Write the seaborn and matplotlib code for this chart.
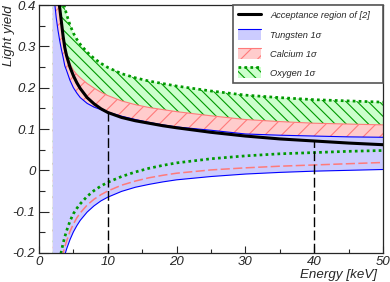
import numpy as np
import matplotlib
matplotlib.use("Agg")
import matplotlib.pyplot as plt
import matplotlib.ticker as mtick
from matplotlib.lines import Line2D
from matplotlib.patches import Patch, Rectangle
from matplotlib.legend_handler import HandlerBase
import seaborn as sns

# Values
energy = [2, 2.25, 2.5, 2.75, 3, 3.25, 3.5, 3.75, 4, 4.5, 5, 5.5, 6, 7, 8, 9, 10,
          12, 14, 16, 18, 20, 25, 30, 35, 40, 45, 50]

tungsten_lo = [-0.401, -0.354, -0.317, -0.286, -0.261, -0.239, -0.221, -0.205, -0.191,
               -0.168, -0.149, -0.134, -0.121, -0.101, -0.086, -0.074, -0.065,
               -0.051, -0.041, -0.034, -0.028, -0.023, -0.015, -0.009, -0.005, -0.002, 0.000, 0.002]
tungsten_hi = [0.46, 0.41, 0.37, 0.34, 0.315, 0.293, 0.274, 0.253, 0.242, 0.218, 0.200,
               0.187, 0.176, 0.162, 0.153, 0.147, 0.141, 0.131, 0.123, 0.116, 0.110,
               0.105, 0.097, 0.088, 0.085, 0.083, 0.081, 0.080]

calcium_lo = [-0.379, -0.333, -0.296, -0.266, -0.241, -0.219, -0.201, -0.185, -0.172,
              -0.148, -0.130, -0.115, -0.103, -0.084, -0.070, -0.059, -0.050,
              -0.036, -0.026, -0.018, -0.012, -0.007, 0.001, 0.006, 0.010, 0.013, 0.016, 0.019]
calcium_hi = [0.58, 0.52, 0.47, 0.425, 0.39, 0.357, 0.328, 0.303, 0.283, 0.258, 0.242,
              0.232, 0.224, 0.210, 0.199, 0.189, 0.181, 0.168, 0.159, 0.152, 0.147,
              0.142, 0.132, 0.123, 0.118, 0.114, 0.112, 0.110]

oxygen_lo = [-0.359, -0.312, -0.274, -0.243, -0.218, -0.196, -0.177, -0.161, -0.147,
             -0.123, -0.105, -0.092, -0.081, -0.063, -0.049, -0.038, -0.029,
             -0.015, -0.004, 0.005, 0.012, 0.018, 0.028, 0.035, 0.040, 0.043, 0.046, 0.048]
oxygen_hi = [0.62, 0.56, 0.52, 0.48, 0.455, 0.43, 0.41, 0.393, 0.378, 0.352, 0.332,
             0.317, 0.305, 0.286, 0.271, 0.259, 0.249, 0.234, 0.224, 0.216, 0.210,
             0.204, 0.192, 0.182, 0.176, 0.171, 0.168, 0.165]

acceptance = [0.60, 0.53, 0.48, 0.43, 0.395, 0.36, 0.325, 0.297, 0.278, 0.250, 0.229,
              0.212, 0.198, 0.176, 0.161, 0.149, 0.140, 0.128, 0.120, 0.114, 0.108,
              0.103, 0.092, 0.083, 0.076, 0.071, 0.066, 0.062]

window = [10, 40]
x_range = [0, 50]
y_range = [-0.2, 0.4]
xticks = [0, 10, 20, 30, 40, 50]
yticks = [-0.2, -0.1, 0, 0.1, 0.2, 0.3, 0.4]
ytick_labels = ["-0.2", "-0.1", "0", "0.1", "0.2", "0.3", "0.4"]
legend_labels = ["Acceptance region of [2]", "Tungsten 1σ", "Calcium 1σ", "Oxygen 1σ"]

COLORS = {
    "w_fill": "#ccccff", "w_line": "#0000ff",
    "ca_fill": "#ffcccc", "ca_line": "#ff7a7a",
    "o_fill": "#ccffcc", "o_line": "#009900",
}

sns.set_style("ticks")
plt.rcParams["font.family"] = ["Liberation Sans", "DejaVu Sans"]
plt.rcParams["font.style"] = "italic"
plt.rcParams["hatch.linewidth"] = 0.8


class BandHandler(HandlerBase):
    """Legend entry: filled box with its edge line along the top."""
    def create_artists(self, legend, orig_handle, xdescent, ydescent, width, height, fontsize, trans):
        patch, edge = orig_handle
        box = Rectangle((-xdescent, -ydescent), width, height)
        box.update_from(patch)
        box.set_transform(trans)
        top = Line2D([-xdescent, width - xdescent], [height - ydescent] * 2)
        top.update_from(edge)
        top.set_transform(trans)
        return [box, top]


fig = plt.figure(figsize=(3.9, 2.82), dpi=100)
ax = fig.add_axes([0.1, 0.103, 0.882, 0.879])
ax.set_axisbelow(False)

# bands, drawn opaque in this order so the later ones cover the earlier
ax.fill_between(energy, oxygen_lo, oxygen_hi, facecolor=COLORS["o_fill"],
                edgecolor=COLORS["o_line"], hatch="\\\\\\", linewidth=0, zorder=1)
ax.fill_between(energy, calcium_lo, calcium_hi, facecolor=COLORS["ca_fill"],
                edgecolor=COLORS["ca_line"], hatch="//", linewidth=0, zorder=1.1)
ax.fill_between(energy, tungsten_lo, tungsten_hi, facecolor=COLORS["w_fill"],
                linewidth=0, zorder=1.2)

dotted = (0, (1, 1.2))
dashed = (0, (6, 2.2))
for y in (oxygen_lo, oxygen_hi):
    sns.lineplot(x=energy, y=y, ax=ax, color=COLORS["o_line"], lw=1.95, linestyle=dotted, zorder=3)
sns.lineplot(x=energy, y=calcium_lo, ax=ax, color=COLORS["ca_line"], lw=1.1, linestyle=dashed, zorder=3)
sns.lineplot(x=energy, y=calcium_hi, ax=ax, color=COLORS["ca_line"], lw=0.8, zorder=3)
for y in (tungsten_lo, tungsten_hi):
    sns.lineplot(x=energy, y=y, ax=ax, color=COLORS["w_line"], lw=0.8, zorder=3.2)
sns.lineplot(x=energy, y=acceptance, ax=ax, color="black", lw=2.2, zorder=4)

ax.vlines(window, y_range[0], np.interp(window, energy, acceptance), colors="black",
          linestyles=(0, (7, 2.5)), lw=1.0, zorder=4)

ax.set_xlim(x_range)
ax.set_ylim(y_range)
ax.set_xticks(xticks)
ax.set_xticklabels([str(t) for t in xticks])
ax.set_yticks(yticks)
ax.set_yticklabels(ytick_labels)
ax.xaxis.set_minor_locator(mtick.MultipleLocator(5))
ax.yaxis.set_minor_locator(mtick.MultipleLocator(0.05))
ax.tick_params(which="both", direction="in", top=False, right=False, width=0.8, labelsize=9.5)
ax.tick_params(axis="y", which="major", length=7.5, pad=2.5)
ax.tick_params(axis="y", which="minor", length=4.2)
ax.tick_params(axis="x", which="major", length=5, pad=2)
ax.tick_params(axis="x", which="minor", length=2.6)
for sp in ax.spines.values():
    sp.set_linewidth(0.9)
    sp.set_zorder(3.5)
ax.set_xlabel("")
ax.set_ylabel("")

ax.text(-0.0858, 1.0, "Light yield", rotation=90, ha="center", va="top",
        transform=ax.transAxes, fontsize=9.6)
fig.text(0.967, 0.004, "Energy [keV]", ha="right", va="bottom", fontsize=9.6)

handles = [
    Line2D([], [], color="black", lw=2.2),
    (Patch(facecolor=COLORS["w_fill"], lw=0), Line2D([], [], color=COLORS["w_line"], lw=0.8)),
    (Patch(facecolor=COLORS["ca_fill"], edgecolor=COLORS["ca_line"], hatch="//", lw=0),
     Line2D([], [], color=COLORS["ca_line"], lw=0.8)),
    (Patch(facecolor=COLORS["o_fill"], edgecolor=COLORS["o_line"], hatch="\\\\\\", lw=0),
     Line2D([], [], color=COLORS["o_line"], lw=1.95, linestyle=dotted)),
]
leg = ax.legend(handles, legend_labels, handler_map={tuple: BandHandler()},
                loc="upper left", bbox_to_anchor=(0.564, 0.685, 0.436, 0.315), mode="expand",
                borderaxespad=0, fontsize=6.7, handlelength=2.5, handleheight=1.45,
                labelspacing=0.88, handletextpad=1.0, borderpad=0.5,
                fancybox=False, framealpha=1, edgecolor="#555555")
leg.get_frame().set_linewidth(1.2)
leg.set_zorder(6)

fig.savefig("out.png", dpi=100)
